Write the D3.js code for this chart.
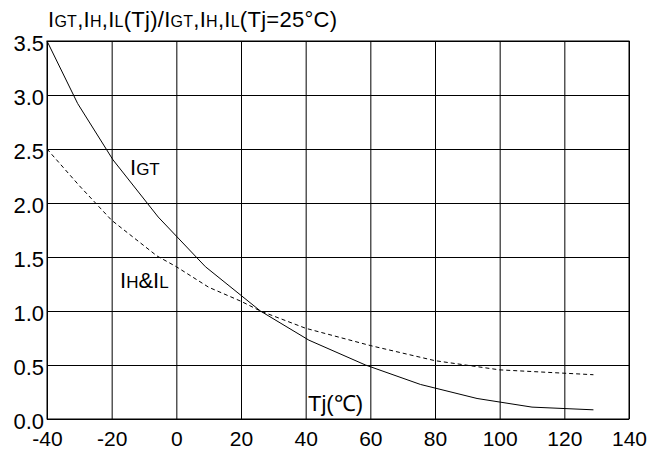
<!DOCTYPE html>
<html>
<head>
<meta charset="utf-8">
<script src="https://cdn.jsdelivr.net/npm/d3@7"></script>
<style>
  body { margin: 0; background: #fff; }
  svg text { font-family: "Liberation Sans", Arial, sans-serif; fill: #000; }
</style>
</head>
<body>
<div id="chart"></div>
<script>
// axis ticks
var xTicks = [-40, -20, 0, 20, 40, 60, 80, 100, 120, 140];
var yTicks = [0, 0.5, 1.0, 1.5, 2.0, 2.5, 3.0, 3.5];

// IGT curve (solid)
var igtTemp = [-40, -30.5, -19.6, -5.6, 9, 26, 41, 58.5, 75.5, 93, 110, 129];
var igtVal  = [3.5, 2.92, 2.40, 1.87, 1.41, 1.0, 0.73, 0.5, 0.32, 0.19, 0.11, 0.085];

// IH & IL curve (dashed)
var ihTemp = [-40, -30, -20, -6, 0, 10, 20, 26, 40, 60, 80, 100, 129];
var ihVal  = [2.5, 2.16, 1.84, 1.51, 1.41, 1.22, 1.09, 1.0, 0.84, 0.68, 0.54, 0.455, 0.41];

var width = 657, height = 452;
var margin = {top: 41, right: 28, bottom: 33, left: 47};

var svg = d3.select("#chart")
  .append("svg")
  .attr("width", width)
  .attr("height", height);

var xScale = d3.scaleLinear()
  .domain([-40, 140])
  .range([margin.left, width - margin.right]);

var yScale = d3.scaleLinear()
  .domain([0, 3.5])
  .range([height - margin.bottom, margin.top]);

var plotW = width - margin.right - margin.left;
var plotH = height - margin.bottom - margin.top;

// grid + labels, X
var xAxis = d3.axisBottom(xScale)
  .tickValues(xTicks)
  .tickSize(-plotH)
  .tickPadding(12)
  .tickFormat(d => d);

svg.append("g")
  .attr("class", "x-axis")
  .attr("transform", `translate(0,${height - margin.bottom})`)
  .call(xAxis)
  .call(g => g.select(".domain").remove())
  .call(g => g.selectAll("line").attr("stroke", "#000").attr("stroke-width", 1))
  .selectAll("text")
  .attr("font-size", "21px")
  .attr("fill", "#000");

// grid + labels, Y
var yAxis = d3.axisLeft(yScale)
  .tickValues(yTicks)
  .tickSize(-plotW)
  .tickPadding(3)
  .tickFormat(d3.format(".1f"));

svg.append("g")
  .attr("class", "y-axis")
  .attr("transform", `translate(${margin.left},0)`)
  .call(yAxis)
  .call(g => g.select(".domain").remove())
  .call(g => g.selectAll("line").attr("stroke", "#000").attr("stroke-width", 1))
  .selectAll("text")
  .attr("font-size", "22px")
  .attr("dy", "0.43em")
  .attr("fill", "#000");

// frame
svg.append("rect")
  .attr("x", margin.left)
  .attr("y", margin.top)
  .attr("width", plotW)
  .attr("height", plotH)
  .attr("fill", "none")
  .attr("stroke", "#000")
  .attr("stroke-width", 1);

var line = d3.line()
  .x(d => xScale(d[0]))
  .y(d => yScale(d[1]));

svg.append("path")
  .datum(igtTemp.map((t, i) => [t, igtVal[i]]))
  .attr("d", line)
  .attr("fill", "none")
  .attr("stroke", "#000")
  .attr("stroke-width", 1);

svg.append("path")
  .datum(ihTemp.map((t, i) => [t, ihVal[i]]))
  .attr("d", line)
  .attr("fill", "none")
  .attr("stroke", "#000")
  .attr("stroke-width", 1)
  .attr("stroke-dasharray", "4,3");

// text with small-cap style subscripts
function label(x, y, parts, big, small) {
  var t = svg.append("text").attr("x", x).attr("y", y);
  parts.forEach(p => {
    t.append("tspan")
      .attr("font-size", (p[1] ? small : big) + "px")
      .text(p[0]);
  });
  return t;
}

label(48, 27, [["I"], ["GT", 1], [",I"], ["H", 1], [",I"], ["L", 1], ["(Tj)/I"], ["GT", 1],
  [",I"], ["H", 1], [",I"], ["L", 1], ["(Tj=25\u00b0C)"]], 22, 16)
  .attr("textLength", 289)
  .attr("lengthAdjust", "spacing");

label(130, 175, [["I"], ["GT", 1]], 22, 17);
label(120, 288, [["I"], ["H", 1], ["&I"], ["L", 1]], 22, 17);
label(308, 411, [["Tj(\u2103)"]], 22, 22);
</script>
</body>
</html>
